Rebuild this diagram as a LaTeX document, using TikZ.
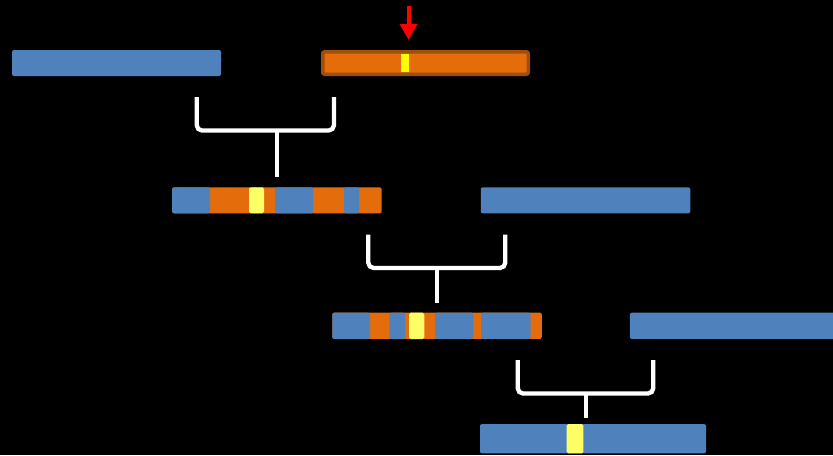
\documentclass[tikz,border=0pt]{standalone}
\usetikzlibrary{arrows.meta}
\definecolor{cblue}{HTML}{4F81BD}
\definecolor{corange}{HTML}{E46C0A}
\definecolor{cbrown}{HTML}{9E4F0C}
\definecolor{cyellow}{HTML}{FFFF66}
\definecolor{cyellowb}{HTML}{FFFF00}
\newcommand\pxu{0.75pt}
\tikzset{
  seg/.style={rounded corners=1.2pt},
  bracket/.style={draw=white, line width=4.3*\pxu, rounded corners=4pt},
  stem/.style={draw=white, line width=4.3*\pxu},
  barnode/.style={rectangle, inner sep=0pt, outer sep=0pt, rounded corners=1.5pt},
}
\begin{document}
\begin{tikzpicture}[x=\pxu, y=-\pxu]
\fill[black] (0,0) rectangle (833,455);
\useasboundingbox (0,0) rectangle (833,455);

% row 1
\node[barnode, fill=cblue, minimum width=209*\pxu, minimum height=26*\pxu] (r1a) at (116.5,63) {};
\node[barnode, fill=corange, draw=cbrown, line width=3.5*\pxu, minimum width=205.5*\pxu, minimum height=22.5*\pxu] (r1b) at (425.5,63) {};
\fill[cyellowb] (401,54) rectangle (409,72);
\coordinate (arrtop) at (408.5,6);
\draw[red, line width=4*\pxu, -{Triangle[width=17*\pxu, length=16*\pxu]}] (arrtop) -- ([yshift=12*\pxu]r1b.north -| arrtop);

% bracket 1
\coordinate (b1l) at (196.7,97);
\coordinate (b1r) at (334,97);
\coordinate (b1m) at (276.7,130.5);
\draw[bracket] (b1l) |- (b1m) -| (b1r);

% row 2
\node[barnode, fill=corange, minimum width=209.5*\pxu, minimum height=26*\pxu] (r2a) at (276.9,200.3) {};
\fill[seg, cblue] (172.2,187.3) rectangle (210,213.3);
\fill[seg, cyellow] (249,187.3) rectangle (264,213.3);
\fill[seg, cblue] (275,187.3) rectangle (313,213.3);
\fill[seg, cblue] (344,187.3) rectangle (359,213.3);
\node[barnode, fill=cblue, minimum width=209.5*\pxu, minimum height=26*\pxu] (r2b) at (585.5,200.3) {};
\draw[stem] (b1m) -- ([yshift=10*\pxu]r2a.north -| b1m);

% bracket 2
\coordinate (b2l) at (368.3,234.7);
\coordinate (b2r) at (505.3,234.7);
\coordinate (b2m) at (436.8,268);
\draw[bracket] (b2l) |- (b2m) -| (b2r);

% row 3
\node[barnode, fill=corange, minimum width=209.5*\pxu, minimum height=26.3*\pxu] (r3a) at (437,325.8) {};
\fill[seg, cblue] (332.3,312.7) rectangle (370,339);
\fill[seg, cblue] (389.3,312.7) rectangle (405,339);
\fill[seg, cyellow] (409,312.7) rectangle (424.3,339);
\fill[seg, cblue] (435,312.7) rectangle (473.3,339);
\fill[seg, cblue] (481,312.7) rectangle (530.7,339);
\node[barnode, fill=cblue, minimum width=209.5*\pxu, minimum height=26.3*\pxu] (r3b) at (734.7,325.8) {};
\draw[stem] (b2m) -- ([yshift=10*\pxu]r3a.north -| b2m);

% bracket 3
\coordinate (b3l) at (517.7,360);
\coordinate (b3r) at (653.3,360);
\coordinate (b3m) at (585.7,393.5);
\draw[bracket] (b3l) |- (b3m) -| (b3r);

% row 4
\node[barnode, fill=cblue, minimum width=226*\pxu, minimum height=29.3*\pxu] (r4) at (593,438.7) {};
\fill[seg, cyellow] (566.7,424) rectangle (583.3,453.3);
\draw[stem] (b3m) -- ([yshift=6.5*\pxu]r4.north -| b3m);
\end{tikzpicture}
\end{document}
